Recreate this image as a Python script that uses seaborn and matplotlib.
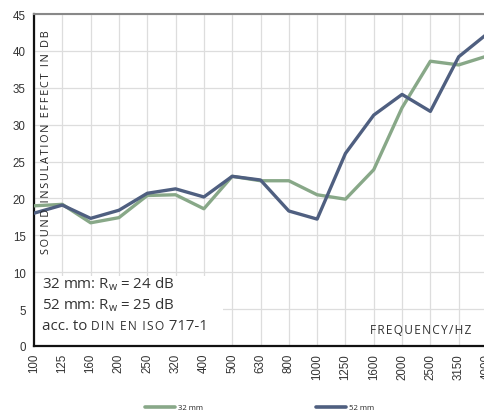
import matplotlib
matplotlib.use("Agg")
import matplotlib.pyplot as plt
import seaborn as sns
import pandas as pd
from matplotlib.patches import Rectangle
from matplotlib.lines import Line2D

frequencies = ["100", "125", "160", "200", "250", "320", "400", "500", "630",
               "800", "1000", "1250", "1600", "2000", "2500", "3150", "4000"]
mm32 = [19.0, 19.2, 16.7, 17.4, 20.4, 20.5, 18.6, 23.0, 22.4, 22.4, 20.5,
        19.9, 23.9, 32.3, 38.6, 38.1, 39.3]
mm52 = [18.0, 19.1, 17.3, 18.4, 20.7, 21.3, 20.2, 23.0, 22.5, 18.3, 17.2,
        26.1, 31.3, 34.1, 31.8, 39.2, 42.3]
series_names = ["32 mm", "52 mm"]
colors = ["#88a888", "#4f5f80"]
y_ticks = [0, 5, 10, 15, 20, 25, 30, 35, 40, 45]

df = pd.DataFrame({
    "freq": frequencies * 2,
    "value": mm32 + mm52,
    "series": [series_names[0]] * len(frequencies) + [series_names[1]] * len(frequencies),
})

sns.set_style("white")
plt.rcParams["font.family"] = ["Liberation Sans", "DejaVu Sans"]
plt.rcParams["mathtext.fontset"] = "custom"
plt.rcParams["mathtext.rm"] = "Open Sans"
plt.rcParams["mathtext.it"] = "Open Sans"

fig = plt.figure(figsize=(4.84, 4.14), dpi=100)
ax = fig.add_axes([34 / 484, 67 / 414, 453 / 484, 332 / 414])

sns.lineplot(data=df, x="freq", y="value", hue="series", palette=colors,
             linewidth=2.4, legend=False, ax=ax, zorder=3)

ax.set_xlim(0, 16)
ax.set_ylim(0, 45)
ax.set_yticks(y_ticks)
ax.set_xticks(range(len(frequencies)))
ax.set_xticklabels(frequencies, rotation=90)
ax.set_xlabel("")
ax.set_ylabel("")
ax.set_axisbelow(True)
ax.grid(True, color="#dddddd", linewidth=0.9)
ax.tick_params(axis="both", labelsize=8.3, colors="#333333", length=3, width=0.8,
               direction="out", pad=3)
ax.tick_params(axis="x", pad=2)

ax.spines["right"].set_visible(False)
ax.spines["top"].set_color("#888888")
ax.spines["top"].set_linewidth(1.5)
ax.spines["left"].set_color("#111111")
ax.spines["left"].set_linewidth(1.6)
ax.spines["bottom"].set_color("#111111")
ax.spines["bottom"].set_linewidth(1.6)

# white annotation box
ax.add_patch(Rectangle((0, 0), 0.417, 0.21, transform=ax.transAxes,
                       facecolor="white", edgecolor="none", zorder=1))

tfam = ["Open Sans", "DejaVu Sans"]


def spaced(s, sp="\u200a"):
    return sp.join(list(s))


ax.text(0.028, 0.955, spaced("SOUND INSULATION EFFECT IN DB", "\u2009"),
        transform=ax.transAxes, rotation=90, ha="center", va="top",
        fontsize=7.8, color="#222222", family=tfam, zorder=4)
ax.text(0.965, 0.04, spaced("FREQUENCY/HZ"), transform=ax.transAxes, ha="right",
        va="baseline", fontsize=8.6, color="#333333", family=tfam, zorder=4)

fs = 10.8
ax.text(0.018, 0.175, r"32 mm: R$_{\mathrm{w}}$ = 24 dB", transform=ax.transAxes,
        ha="left", va="baseline", fontsize=fs, color="#333333", family=tfam, zorder=4)
ax.text(0.018, 0.114, r"52 mm: R$_{\mathrm{w}}$ = 25 dB", transform=ax.transAxes,
        ha="left", va="baseline", fontsize=fs, color="#333333", family=tfam, zorder=4)

# "acc. to DIN EN ISO 717-1" with small caps for DIN EN ISO
fig.canvas.draw()
renderer = fig.canvas.get_renderer()
pieces = [("acc. to ", fs), (spaced("DIN EN ISO", "\u200a"), fs * 0.8), (" 717-1", fs)]
x_disp = ax.transAxes.transform((0.018, 0.051))
xpos = x_disp[0]
for txt, size in pieces:
    t = fig.text(xpos / fig.bbox.width, x_disp[1] / fig.bbox.height, txt,
                 ha="left", va="baseline", fontsize=size, color="#333333",
                 family=tfam, zorder=4)
    ext = t.get_window_extent(renderer)
    xpos = ext.x1

handles = [Line2D([], [], color=c, linewidth=2.6) for c in colors]
fig.legend(handles, series_names, loc="center", bbox_to_anchor=(0.536, 0.013),
           ncol=2, frameon=False, handlelength=3.9,
           handletextpad=0.3, columnspacing=14.6,
           prop={"family": tfam, "size": 5.6})

fig.savefig("out.png", dpi=100)
